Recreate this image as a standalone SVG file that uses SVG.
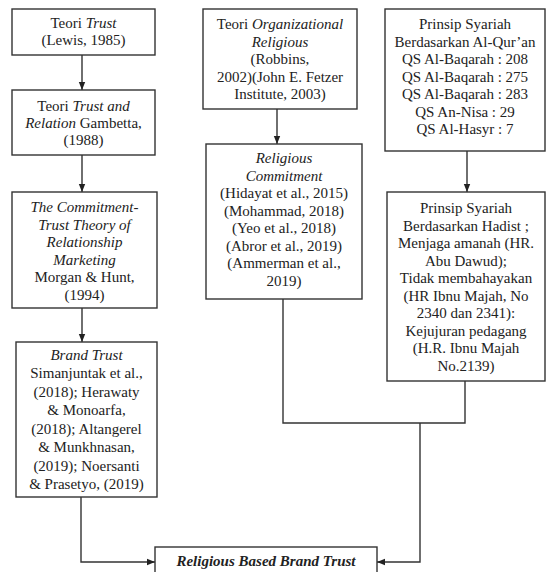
<svg xmlns="http://www.w3.org/2000/svg" width="546" height="572" viewBox="0 0 546 572">
<style>
.box{fill:#fff;stroke:#333;stroke-width:1.4}
text{font-family:"Liberation Serif","Times New Roman",serif;font-size:15px;fill:#222;text-anchor:middle}
.i{font-style:italic}
.bi{font-style:italic;font-weight:bold}
.c{fill:none;stroke:#333;stroke-width:1.4}
</style>
<defs>
<marker id="ah" viewBox="0 0 8 8" refX="8" refY="4" markerWidth="8" markerHeight="8" markerUnits="userSpaceOnUse" orient="auto">
<path d="M0,0.8 L8,4 L0,7.2 Z" fill="#222"/>
</marker>
</defs>
<rect width="546" height="572" fill="#fff"/>
<g id="connectors">
<path class="c" d="M82,55 V90" marker-end="url(#ah)"/>
<path class="c" d="M82,155 V192" marker-end="url(#ah)"/>
<path class="c" d="M82,308 V342" marker-end="url(#ah)"/>
<path class="c" d="M81,497 V562 H155" marker-end="url(#ah)"/>
<path class="c" d="M277,109 V144" marker-end="url(#ah)"/>
<path class="c" d="M467,151 V192" marker-end="url(#ah)"/>
<path class="c" d="M283,299 V423 H465 V381"/>
<path class="c" d="M420,423 V562 H377" marker-end="url(#ah)"/>
</g>
<g id="teori-trust">
<rect class="box" x="12" y="9" width="143" height="46"/>
<text x="83.5" y="28">Teori <tspan class="i">Trust</tspan></text>
<text x="83.5" y="45">(Lewis, 1985)</text>
</g>
<g id="trust-relation">
<rect class="box" x="12" y="90" width="143" height="65"/>
<text x="83.5" y="111">Teori <tspan class="i">Trust and</tspan></text>
<text x="83.5" y="128"><tspan class="i">Relation</tspan> Gambetta,</text>
<text x="83.5" y="145">(1988)</text>
</g>
<g id="commitment-trust">
<rect class="box" x="12" y="192" width="145" height="116"/>
<text x="84.5" y="212" class="i">The Commitment-</text>
<text x="84.5" y="229.5" class="i">Trust Theory of</text>
<text x="84.5" y="247" class="i">Relationship</text>
<text x="84.5" y="264.5" class="i">Marketing</text>
<text x="84.5" y="282">Morgan &amp; Hunt,</text>
<text x="84.5" y="299.5">(1994)</text>
</g>
<g id="brand-trust">
<rect class="box" x="16" y="342" width="141" height="155"/>
<text x="86.5" y="360" class="i">Brand Trust</text>
<text x="86.5" y="378">Simanjuntak et al.,</text>
<text x="86.5" y="397">(2018); Herawaty</text>
<text x="86.5" y="415">&amp; Monoarfa,</text>
<text x="86.5" y="434">(2018); Altangerel</text>
<text x="86.5" y="452">&amp; Munkhnasan,</text>
<text x="86.5" y="471">(2019); Noersanti</text>
<text x="86.5" y="489">&amp; Prasetyo, (2019)</text>
</g>
<g id="organizational-religious">
<rect class="box" x="203" y="9" width="154" height="100"/>
<text x="280" y="29">Teori <tspan class="i">Organizational</tspan></text>
<text x="280" y="46.5" class="i">Religious</text>
<text x="280" y="64">(Robbins,</text>
<text x="280" y="81.5">2002)(John E. Fetzer</text>
<text x="280" y="99">Institute, 2003)</text>
</g>
<g id="religious-commitment">
<rect class="box" x="206" y="144" width="156" height="155"/>
<text x="284" y="163" class="i">Religious</text>
<text x="284" y="180.5" class="i">Commitment</text>
<text x="284" y="198">(Hidayat et al., 2015)</text>
<text x="284" y="215.5">(Mohammad, 2018)</text>
<text x="284" y="233">(Yeo et al., 2018)</text>
<text x="284" y="250.5">(Abror et al., 2019)</text>
<text x="284" y="268">(Ammerman et al.,</text>
<text x="284" y="285.5">2019)</text>
</g>
<g id="syariah-quran">
<rect class="box" x="385" y="9" width="160" height="142"/>
<text x="465" y="29">Prinsip Syariah</text>
<text x="465" y="46.5">Berdasarkan Al-Qur’an</text>
<text x="465" y="64">QS Al-Baqarah : 208</text>
<text x="465" y="81.5">QS Al-Baqarah : 275</text>
<text x="465" y="99">QS Al-Baqarah : 283</text>
<text x="465" y="116.5">QS An-Nisa : 29</text>
<text x="465" y="134">QS Al-Hasyr : 7</text>
</g>
<g id="syariah-hadist">
<rect class="box" x="387" y="192" width="158" height="189"/>
<text x="466" y="213">Prinsip Syariah</text>
<text x="466" y="230.5">Berdasarkan Hadist ;</text>
<text x="466" y="248">Menjaga amanah (HR.</text>
<text x="466" y="265.5">Abu Dawud);</text>
<text x="466" y="283">Tidak membahayakan</text>
<text x="466" y="300.5">(HR Ibnu Majah, No</text>
<text x="466" y="318">2340 dan 2341):</text>
<text x="466" y="335.5">Kejujuran pedagang</text>
<text x="466" y="353">(H.R. Ibnu Majah</text>
<text x="466" y="370.5">No.2139)</text>
</g>
<g id="religious-based-brand-trust">
<rect class="box" x="155" y="547" width="222" height="40"/>
<text x="266" y="566" class="bi">Religious Based Brand Trust</text>
</g>
</svg>
